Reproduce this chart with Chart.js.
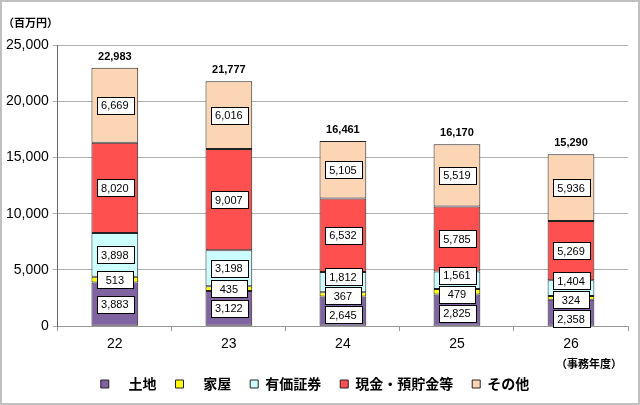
<!DOCTYPE html>
<html>
<head>
<meta charset="utf-8">
<script src="https://cdn.jsdelivr.net/npm/chart.js@4/dist/chart.umd.min.js"></script>
<style>
  html, body { margin: 0; padding: 0; background: #fff; }
  #wrap { width: 640px; height: 405px; box-sizing: border-box; border: 2px solid #c0c0c0; }
  #wrap canvas { display: block; }
</style>
</head>
<body>
<div id="wrap"><canvas id="assetchart" width="636" height="401"></canvas></div>
<script>
// data
const years = ["22", "23", "24", "25", "26"];
const tochi = [3883, 3122, 2645, 2825, 2358];      // 土地
const kaoku = [513, 435, 367, 479, 324];            // 家屋
const yuka = [3898, 3198, 1812, 1561, 1404];        // 有価証券
const genkin = [8020, 9007, 6532, 5785, 5269];      // 現金・預貯金等
const sonota = [6669, 6016, 5105, 5519, 5936];      // その他
const totals = [22983, 21777, 16461, 16170, 15290];
const yTicks = [0, 5000, 10000, 15000, 20000, 25000];

const fontfam = "'Liberation Sans', 'Noto Sans CJK JP', Arial, sans-serif";
const jpfont = "'Noto Sans CJK JP', 'Liberation Sans', sans-serif";

const fmt = (v) => v.toLocaleString("en-US");

// boxed value labels + totals + unit texts
const labelPlugin = {
    id: "boxlabels",
    afterDatasetsDraw(chart) {
        const ctx = chart.ctx;
        const boxH = 17;
        ctx.save();
        ctx.font = "11px " + fontfam;
        ctx.textAlign = "center";
        ctx.textBaseline = "middle";
        years.forEach((yr, i) => {
            let items = [];
            chart.data.datasets.forEach((ds, d) => {
                const el = chart.getDatasetMeta(d).data[i];
                items.push({ x: el.x, y: (el.y + el.base) / 2, text: fmt(ds.data[i]) });
            });
            // push overlapping labels apart
            for (let it = 0; it < 50; it++) {
                for (let k = 1; k < items.length; k++) {
                    const gap = items[k - 1].y - items[k].y;
                    if (gap < boxH + 2) {
                        const push = (boxH + 2 - gap) / 2;
                        items[k - 1].y += push;
                        items[k].y -= push;
                    }
                }
            }
            items.forEach(lb => {
                const w = Math.max(ctx.measureText(lb.text).width + 9, 36);
                const bx = Math.round(lb.x - w / 2) + 0.5, by = Math.round(lb.y - boxH / 2) + 0.5;
                ctx.fillStyle = "#fff";
                ctx.fillRect(bx, by, Math.round(w), boxH);
                ctx.strokeStyle = "#000";
                ctx.lineWidth = 1;
                ctx.strokeRect(bx, by, Math.round(w), boxH);
                ctx.fillStyle = "#000";
                ctx.fillText(lb.text, lb.x, lb.y + 1);
            });
            // total on top
            const topEl = chart.getDatasetMeta(chart.data.datasets.length - 1).data[i];
            ctx.font = "bold 11px " + fontfam;
            ctx.fillText(fmt(totals[i]), topEl.x, topEl.y - 11);
            ctx.font = "11px " + fontfam;
        });
        // unit labels
        ctx.font = "bold 11px " + jpfont;
        ctx.textAlign = "left";
        ctx.fillText("（百万円）", 1, 21);
        ctx.textAlign = "center";
        ctx.fillText("（事務年度）", chart.scales.x.getPixelForValue(4) + 18, 362);
        ctx.restore();
    }
};

const ctx = document.getElementById("assetchart");
new Chart(ctx, {
    type: "bar",
    data: {
        labels: years,
        datasets: [
            { label: "    土地", data: tochi, backgroundColor: "#8064a2" },
            { label: "    家屋", data: kaoku, backgroundColor: "#ffff00" },
            { label: "有価証券", data: yuka, backgroundColor: "#ccffff" },
            { label: "現金・預貯金等", data: genkin, backgroundColor: "#ff5050" },
            { label: "その他", data: sonota, backgroundColor: "#fcd5b4" }
        ].map(ds => Object.assign(ds, {
            borderColor: "#222",
            borderWidth: 1,
            borderSkipped: false,
            barPercentage: 0.41,
            categoryPercentage: 1.0
        }))
    },
    options: {
        responsive: false,
        animation: false,
        layout: {
            padding: { top: 43, left: 0, right: 10, bottom: 2 }
        },
        scales: {
            x: {
                stacked: true,
                ticks: {
                    color: "#000",
                    font: { size: 14, family: fontfam },
                    padding: 5
                },
                grid: {
                    drawOnChartArea: false,
                    offset: true,
                    tickLength: 5,
                    color: "#999"
                },
                border: { color: "#999" }
            },
            y: {
                stacked: true,
                min: 0,
                max: 25000,
                afterBuildTicks: (axis) => { axis.ticks = yTicks.map(v => ({ value: v })); },
                ticks: {
                    color: "#000",
                    font: { size: 14, family: fontfam },
                    padding: 4,
                    callback: (v) => fmt(v)
                },
                grid: {
                    color: "#b0b0b0",
                    tickLength: 5
                },
                border: { color: "#666" }
            }
        },
        plugins: {
            legend: {
                position: "bottom",
                labels: {
                    color: "#000",
                    boxWidth: 8,
                    boxHeight: 8,
                    padding: 19,
                    font: { size: 14, weight: "bold", family: jpfont }
                }
            },
            tooltip: { enabled: false }
        }
    },
    plugins: [labelPlugin]
});
</script>
</body>
</html>
